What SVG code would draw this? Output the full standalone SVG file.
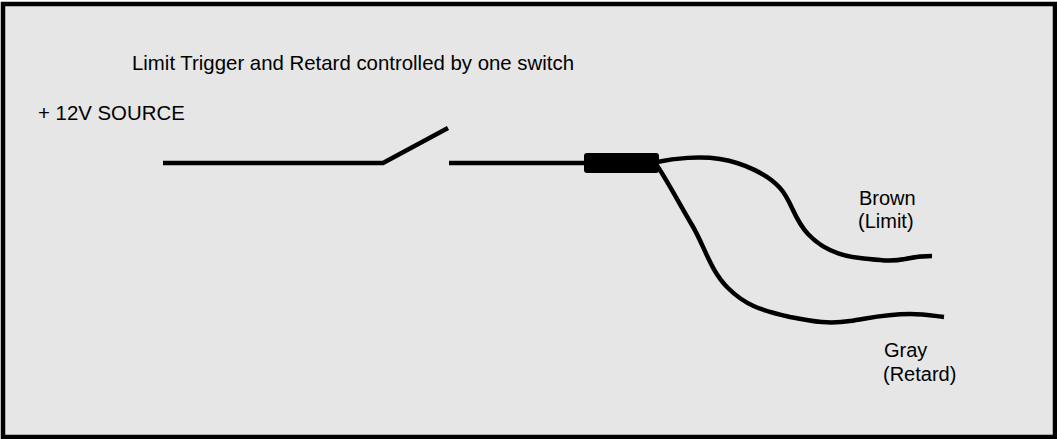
<svg xmlns="http://www.w3.org/2000/svg" width="1057" height="439" viewBox="0 0 1057 439">
<style>
.lbl{font-family:"Liberation Sans",Arial,sans-serif;font-size:20px;fill:#000}
.wire{fill:none;stroke:#000;stroke-width:4.5;stroke-linecap:butt;stroke-linejoin:round}
</style>
<rect x="0" y="0" width="1057" height="439" fill="#ffffff"/>
<rect id="frame" x="3" y="4" width="1052" height="433" fill="#e6e6e6" stroke="#000" stroke-width="4.5"/>
<g id="title"><text class="lbl" x="132" y="70" style="font-size:20.4px">Limit Trigger and Retard controlled by one switch</text></g>
<g id="source"><text class="lbl" x="38" y="120" style="font-size:20.4px">+ 12V SOURCE</text></g>
<g id="switch">
<path class="wire" d="M163,163 L383,163 L448,128"/>
</g>
<g id="connector">
<rect x="584" y="153" width="75" height="20" rx="3" fill="#000"/>
</g>
<g id="connectors">
<path class="wire" d="M449,163 L586,163"/>
<path id="brown-wire" class="wire" d="M657,162 C675,158 700,156 720,159 C745,163 768,175 780,188 C792,201 793,218 808,234 C822,249 840,256 860,258 C880,260 890,262 905,259 C918,256 925,256 932,256"/>
<path id="gray-wire" class="wire" d="M656,164 C667,180 680,205 692,225 C705,247 710,270 728,288 C745,305 760,310 790,317 C815,322 830,324 850,321 C870,318 885,314 910,314 C925,314 935,316 944,317"/>
</g>
<g id="brown-label">
<text class="lbl" x="859" y="205">Brown</text>
<text class="lbl" x="858" y="228">(Limit)</text>
</g>
<g id="gray-label">
<text class="lbl" x="884" y="357">Gray</text>
<text class="lbl" x="883" y="381">(Retard)</text>
</g>
</svg>
